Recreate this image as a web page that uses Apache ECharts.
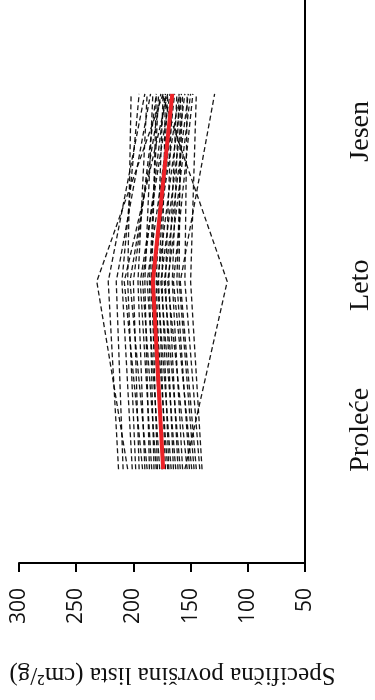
<!DOCTYPE html>
<html>
<head>
<meta charset="utf-8">
<style>
  html, body { margin: 0; padding: 0; background: #ffffff; }
  #chart { width: 375px; height: 700px; }
</style>
<script src="https://cdn.jsdelivr.net/npm/echarts@6/dist/echarts.min.js"></script>
</head>
<body>
<div id="chart"></div>
<script>
// Seasons, in the order they are plotted along the category axis
const seasons = ['Proleće', 'Leto', 'Jesen'];

// Specific leaf area (cm²/g) of each individual plant, one entry per plant
const prolece = [213, 209, 205, 201, 198, 195, 192, 190, 188, 186,
                 184, 182, 180, 179, 177, 175, 174, 172, 170, 169,
                 167, 165, 163, 161, 159, 157, 155, 153, 151, 149,
                 147, 145, 142, 140];
const leto    = [222, 215, 232, 210, 205, 200, 208, 196, 203, 190,
                 194, 186, 192, 184, 188, 180, 185, 178, 182, 175,
                 179, 172, 176, 169, 173, 166, 118, 170, 162, 165,
                 160, 159, 155, 150];
const jesen   = [190, 185, 174, 195, 202, 180, 170, 188, 176, 183,
                 168, 178, 172, 180, 165, 174, 160, 170, 164, 172,
                 158, 166, 155, 162, 152, 160, 175, 150, 157, 148,
                 159, 129, 153, 145];

// Seasonal trend of the whole sample
const mean = [174, 183, 166];

// Value-axis tick values
const valueTicks = [50, 100, 150, 200, 250, 300];

const perSeason = [prolece, leto, jesen];

const series = [];
for (let i = 0; i < prolece.length; i++) {
  series.push({
    type: 'line',
    silent: true,
    symbol: 'none',
    data: perSeason.map((vals, k) => [vals[i], k + 1]),
    lineStyle: { color: '#000000', width: 1.3, type: [5, 3], opacity: 0.9 },
    z: 2
  });
}
series.push({
  type: 'line',
  silent: true,
  symbol: 'none',
  data: mean.map((v, k) => [v, k + 1]),
  lineStyle: { color: '#ec2227', width: 4 },
  z: 5
});

const chart = echarts.init(document.getElementById('chart'), null, { renderer: 'canvas' });
chart.setOption({
  animation: false,
  backgroundColor: '#ffffff',
  grid: { left: 19, right: 65, top: 0, bottom: 137, containLabel: false },
  xAxis: {
    type: 'value',
    position: 'bottom',
    inverse: true,
    min: valueTicks[0],
    max: valueTicks[valueTicks.length - 1],
    interval: 50,
    splitLine: { show: false },
    axisLine: { show: true, lineStyle: { color: '#000', width: 2 } },
    axisTick: { show: true, inside: false, length: 9, lineStyle: { color: '#000', width: 2 } },
    axisLabel: {
      rotate: 90,
      margin: 25,
      color: '#111',
      fontFamily: 'Open Sans',
      fontSize: 21
    },
    name: 'Specifična površina lista (cm²/g)',
    nameLocation: 'middle',
    nameGap: 99,
    nameRotate: 180,
    nameTextStyle: {
      fontFamily: 'Liberation Serif',
      fontSize: 25,
      color: '#111',
      padding: [0, 21, 0, 0]
    }
  },
  yAxis: {
    type: 'value',
    position: 'right',
    min: 0.5,
    max: 3.5,
    splitLine: { show: false },
    axisLine: { show: true, lineStyle: { color: '#000', width: 2 } },
    axisTick: { show: false },
    axisLabel: {
      customValues: [1.21, 1.98, 2.8],
      rotate: 90,
      margin: 42,
      color: '#111',
      fontFamily: 'Liberation Serif',
      fontSize: 28,
      formatter: v => seasons[Math.round(v) - 1]
    }
  },
  series: series
});
</script>
</body>
</html>
